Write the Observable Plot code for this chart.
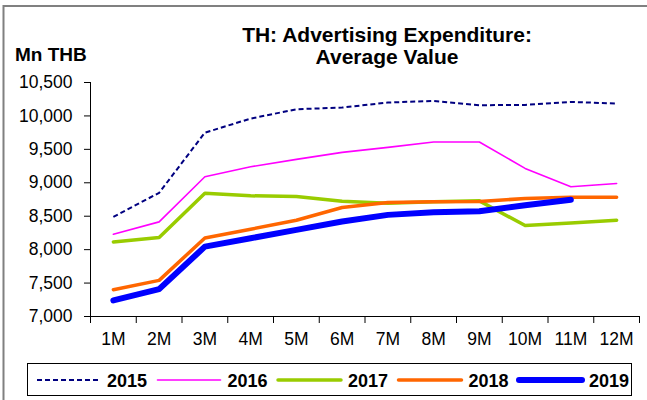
<!DOCTYPE html>
<html>
<head>
<meta charset="utf-8">
<script src="https://cdn.jsdelivr.net/npm/d3@7"></script>
<script src="https://cdn.jsdelivr.net/npm/@observablehq/plot@0.6"></script>
<style>
  html, body { margin: 0; padding: 0; background: #fff; }
  #wrap { position: relative; width: 647px; height: 400px; overflow: hidden; font-family: "Liberation Sans", Arial, sans-serif; }
  #wrap svg { position: absolute; left: 0; top: 0; }
</style>
</head>
<body>
<div id="wrap"></div>
<script>
// ---- data ----
const months = ["1M","2M","3M","4M","5M","6M","7M","8M","9M","10M","11M","12M"];
const years = ["2015","2016","2017","2018","2019"];
const v2015 = [8490, 8850, 9750, 9960, 10100, 10125, 10200, 10225, 10160, 10165, 10210, 10185];
const v2016 = [8230, 8415, 9090, 9240, 9350, 9455, 9530, 9610, 9610, 9215, 8940, 8990];
const v2017 = [8115, 8180, 8845, 8805, 8795, 8725, 8695, 8715, 8730, 8360, 8400, 8440];
const v2018 = [7400, 7540, 8175, 8305, 8440, 8630, 8705, 8715, 8720, 8765, 8785, 8785];
const v2019 = [7240, 7410, 8045, 8170, 8295, 8420, 8520, 8560, 8575, 8665, 8745];
const yTicks = [7000, 7500, 8000, 8500, 9000, 9500, 10000, 10500];
const title = ["TH: Advertising Expenditure:", "Average Value"];
const yUnit = "Mn THB";

const seriesValues = [v2015, v2016, v2017, v2018, v2019];
const styles = [
  {stroke: "#000080", strokeWidth: 2, dash: "5,3"},
  {stroke: "#FF00FF", strokeWidth: 1.6, dash: null},
  {stroke: "#99CC00", strokeWidth: 3.5, dash: null},
  {stroke: "#FF6600", strokeWidth: 3.5, dash: null},
  {stroke: "#0000FF", strokeWidth: 6, dash: null}
];

const boundaries = d3.range(0, 13).map(i => i + 0.5);
const centers = d3.range(1, 13);

const lineMarks = seriesValues.map((vals, k) =>
  Plot.line(vals, {
    x: (d, i) => i + 1,
    y: d => d,
    stroke: styles[k].stroke,
    strokeWidth: styles[k].strokeWidth,
    strokeDasharray: styles[k].dash,
    strokeLinecap: styles[k].dash ? "butt" : "round",
    strokeLinejoin: "round"
  })
);

const chart = Plot.plot({
  width: 647,
  height: 400,
  marginLeft: 90,
  marginRight: 8,
  marginTop: 82,
  marginBottom: 84,
  style: {fontFamily: "Liberation Sans, Arial, sans-serif", background: "transparent", overflow: "visible"},
  x: {type: "linear", domain: [0.5, 12.5]},
  y: {domain: [7000, 10500]},
  marks: [
    Plot.axisY({ticks: yTicks, tickSize: 6, tickPadding: 12, tickFormat: d3.format(","), fontSize: 17.5, label: null, stroke: "black", strokeWidth: 1, fill: "black"}),
    Plot.axisX({ticks: boundaries, tickSize: 7, tickFormat: () => "", label: null, stroke: "black"}),
    Plot.axisX({ticks: centers, tickSize: 0, tickPadding: 16, tickFormat: i => months[i - 1], fontSize: 17.5, label: null, fill: "black"}),
    Plot.ruleX([0.5], {y1: 7000, y2: 10500, stroke: "black"}),
    Plot.ruleY([7000], {stroke: "black"}),
    ...lineMarks
  ]
});

const wrap = document.getElementById("wrap");
wrap.appendChild(chart);

// ---- overlay: frame, title, unit, legend ----
const svg = d3.select(wrap).append("svg").attr("width", 647).attr("height", 400)
  .style("font-family", "Liberation Sans, Arial, sans-serif");

// outer frame (only top & left visible)
svg.append("rect").attr("x", 3.5).attr("y", 6).attr("width", 700).attr("height", 500)
  .attr("fill", "none").attr("stroke", "#808080").attr("stroke-width", 2);

svg.selectAll("text.title").data(title).join("text")
  .attr("class", "title")
  .attr("x", 387).attr("y", (d, i) => 42 + i * 22)
  .attr("text-anchor", "middle")
  .attr("font-size", 21).attr("font-weight", "bold")
  .text(d => d);

svg.append("text").attr("x", 15).attr("y", 61)
  .attr("font-size", 19).attr("font-weight", "bold").text(yUnit);

// legend
const lg = svg.append("g");
lg.append("rect").attr("x", 27.5).attr("y", 363.5).attr("width", 604).attr("height", 32)
  .attr("fill", "white").attr("stroke", "black").attr("stroke-width", 1);
const itemX = d3.scaleLinear().domain([0, 1]).range([37, 157.5]);
years.forEach((yr, k) => {
  const x0 = itemX(k);
  const s = styles[k];
  lg.append("line").attr("x1", x0).attr("x2", x0 + 63).attr("y1", 380).attr("y2", 380)
    .attr("stroke", s.stroke).attr("stroke-width", s.strokeWidth)
    .attr("stroke-dasharray", s.dash).attr("stroke-linecap", s.dash ? "butt" : "round");
  lg.append("text").attr("x", x0 + 70).attr("y", 386.5)
    .attr("font-size", 18).attr("font-weight", "bold").text(yr);
});
</script>
</body>
</html>
